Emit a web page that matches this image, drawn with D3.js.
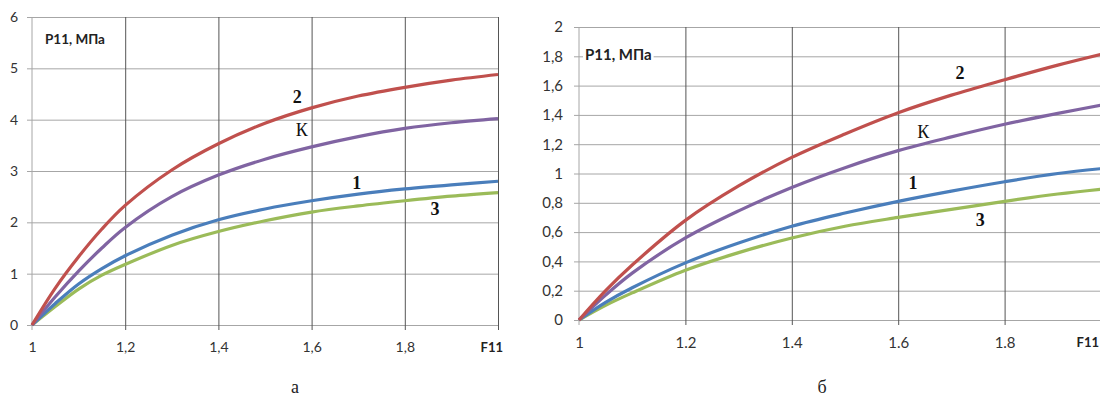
<!DOCTYPE html>
<html>
<head>
<meta charset="utf-8">
<script src="https://d3js.org/d3.v7.min.js"></script>
<style>
  body { margin: 0; background: #fff; }
  svg { display: block; }
  .tick text { font-family: Lato, "Open Sans", sans-serif; fill: #333; }
  .domain { display: none; }
</style>
</head>
<body>
<script>
// ---- data ----
// panel "а"
const xsA = [1, 1.05, 1.1, 1.15, 1.2, 1.3, 1.4, 1.5, 1.6, 1.7, 1.8, 1.9, 2.0];
const redA    = [0, 0.72, 1.33, 1.87, 2.33, 3.02, 3.53, 3.93, 4.23, 4.46, 4.63, 4.77, 4.88];
const purpleA = [0, 0.55, 1.05, 1.50, 1.90, 2.50, 2.92, 3.23, 3.47, 3.67, 3.83, 3.94, 4.02];
const blueA   = [0, 0.42, 0.80, 1.10, 1.35, 1.75, 2.05, 2.26, 2.42, 2.55, 2.65, 2.73, 2.80];
const greenA  = [0, 0.36, 0.70, 0.97, 1.18, 1.55, 1.82, 2.03, 2.20, 2.32, 2.42, 2.51, 2.58];
const xTicksA = [1, 1.2, 1.4, 1.6, 1.8, 2];
const yTicksA = [0, 1, 2, 3, 4, 5, 6];

// panel "б"
const xsB = [1, 1.05, 1.1, 1.2, 1.3, 1.4, 1.5, 1.6, 1.7, 1.8, 1.9, 2.0];
const redB    = [0, 0.20, 0.375, 0.68, 0.915, 1.11, 1.27, 1.415, 1.535, 1.64, 1.74, 1.83];
const purpleB = [0, 0.17, 0.32, 0.56, 0.745, 0.905, 1.04, 1.156, 1.25, 1.336, 1.41, 1.48];
const blueB   = [0, 0.12, 0.22, 0.39, 0.525, 0.64, 0.73, 0.81, 0.88, 0.944, 1.00, 1.04];
const greenB  = [0, 0.10, 0.185, 0.34, 0.46, 0.56, 0.64, 0.70, 0.755, 0.81, 0.86, 0.90];
const xTicksB = [1, 1.2, 1.4, 1.6, 1.8, 2];
const yTicksB = [0, 0.2, 0.4, 0.6, 0.8, 1, 1.2, 1.4, 1.6, 1.8, 2];

// curve labels: [text, x, y] in data units
const labelsA = [["2", 1.569, 4.44], ["К", 1.579, 3.80], ["1", 1.697, 2.77], ["3", 1.865, 2.26]];
const labelsB = [["2", 1.716, 1.686], ["К", 1.647, 1.283], ["1", 1.628, 0.935], ["3", 1.754, 0.683]];

const colors = { red: '#c0504d', purple: '#8064a2', blue: '#4a7ebb', green: '#9bbb59' };

const width = 1100, height = 399;
const svg = d3.select('body').append('svg').attr('width', width).attr('height', height);

function panel(cfg) {
  const x = d3.scaleLinear().domain([1, 2]).range(cfg.xr);
  const y = d3.scaleLinear().domain(cfg.yd).range(cfg.yr);
  const g = svg.append('g');

  // horizontal grid + y labels
  const ya = g.append('g').attr('transform', `translate(${cfg.xr[0]},0)`)
    .call(d3.axisLeft(y).tickValues(cfg.yTicks).tickSize(0).tickPadding(0)
      .tickFormat(d => String(d).replace('.', ',')));
  ya.selectAll('.tick line')
    .attr('x1', -5).attr('x2', cfg.xr[1] - cfg.xr[0])
    .attr('stroke', '#a6a6a6');
  ya.selectAll('.tick text').attr('x', cfg.yLabelX - cfg.xr[0]).style('font-size', cfg.fs + 'px');

  // left axis line
  g.append('line').attr('x1', x(1)).attr('x2', x(1)).attr('y1', y(cfg.yd[1])).attr('y2', y(0) + 5)
    .attr('stroke', '#a6a6a6');

  // vertical grid + x labels
  const xa = g.append('g').attr('transform', `translate(0,${cfg.yr[0]})`)
    .call(d3.axisBottom(x).tickValues(cfg.xTicks).tickSize(0).tickPadding(0)
      .tickFormat(d => d === 2 ? '' : cfg.xFmt(d)));
  xa.selectAll('.tick line')
    .attr('y1', 5).attr('y2', cfg.yr[1] - cfg.yr[0])
    .attr('stroke', d => d === 1 ? 'none' : '#555');
  xa.selectAll('.tick text').attr('y', cfg.xLabelY - cfg.yr[0]).attr('dy', 0)
    .style('font-size', cfg.fs + 'px');

  g.append('text').attr('x', cfg.f11[0]).attr('y', cfg.f11[1])
    .attr('text-anchor', cfg.f11[2])
    .style('font-family', 'Lato, "Open Sans", sans-serif').style('font-weight', 'bold')
    .style('font-size', '13px').attr('fill', '#222').text('F11');

  // curves
  const line = d3.line().x(d => x(d[0])).y(d => y(d[1])).curve(d3.curveCatmullRom.alpha(0.5));
  cfg.series.forEach(s => {
    g.append('path').datum(cfg.xs.map((v, i) => [v, s.values[i]]))
      .attr('d', line).attr('fill', 'none')
      .attr('stroke', s.color).attr('stroke-width', 3.2);
  });

  // title box
  const t = g.append('text').attr('x', cfg.title[0]).attr('y', cfg.title[1])
    .style('font-family', 'Lato, "Open Sans", sans-serif').style('font-weight', 'bold')
    .style('font-size', cfg.titleFs + 'px').attr('fill', '#222').text('P11, МПа');
  const bb = t.node().getBBox();
  g.insert('rect', () => t.node()).attr('x', bb.x - 2).attr('y', bb.y).attr('width', bb.width + 4)
    .attr('height', bb.height).attr('fill', '#fff');

  // curve labels
  g.selectAll('text.lbl').data(cfg.labels).join('text').attr('class', 'lbl')
    .attr('x', d => x(d[1])).attr('y', d => y(d[2])).attr('dy', '0.35em')
    .attr('text-anchor', 'middle')
    .style('font-family', '"Liberation Serif", "DejaVu Serif", serif')
    .style('font-weight', d => d[0] === 'К' ? 'normal' : 'bold')
    .style('font-size', '18px').attr('fill', '#111').text(d => d[0]);

  // caption
  g.append('text').attr('x', cfg.cap[0]).attr('y', cfg.cap[1]).attr('text-anchor', 'middle')
    .style('font-family', '"Liberation Serif", "DejaVu Serif", serif').style('font-size', '18px')
    .attr('fill', '#222').text(cfg.cap[2]);
}

panel({
  xr: [32, 498], yd: [0, 6], yr: [325, 17], yTicks: yTicksA, xTicks: xTicksA,
  yLabelX: 18, xLabelY: 352, fs: 14,
  xFmt: d => String(d).replace('.', ','),
  f11: [503, 352, 'end'],
  title: [45, 44], titleFs: 13.5,
  xs: xsA,
  series: [
    { values: greenA, color: colors.green },
    { values: blueA, color: colors.blue },
    { values: purpleA, color: colors.purple },
    { values: redA, color: colors.red }
  ],
  labels: labelsA,
  cap: [295, 393, 'а']
});

panel({
  xr: [579, 1111], yd: [0, 2], yr: [320, 27], yTicks: yTicksB, xTicks: xTicksB,
  yLabelX: 563, xLabelY: 348, fs: 15,
  xFmt: d => String(d),
  f11: [1099, 347, 'end'],
  title: [585, 60], titleFs: 15,
  xs: xsB,
  series: [
    { values: greenB, color: colors.green },
    { values: blueB, color: colors.blue },
    { values: purpleB, color: colors.purple },
    { values: redB, color: colors.red }
  ],
  labels: labelsB,
  cap: [822, 393, 'б']
});
</script>
</body>
</html>
